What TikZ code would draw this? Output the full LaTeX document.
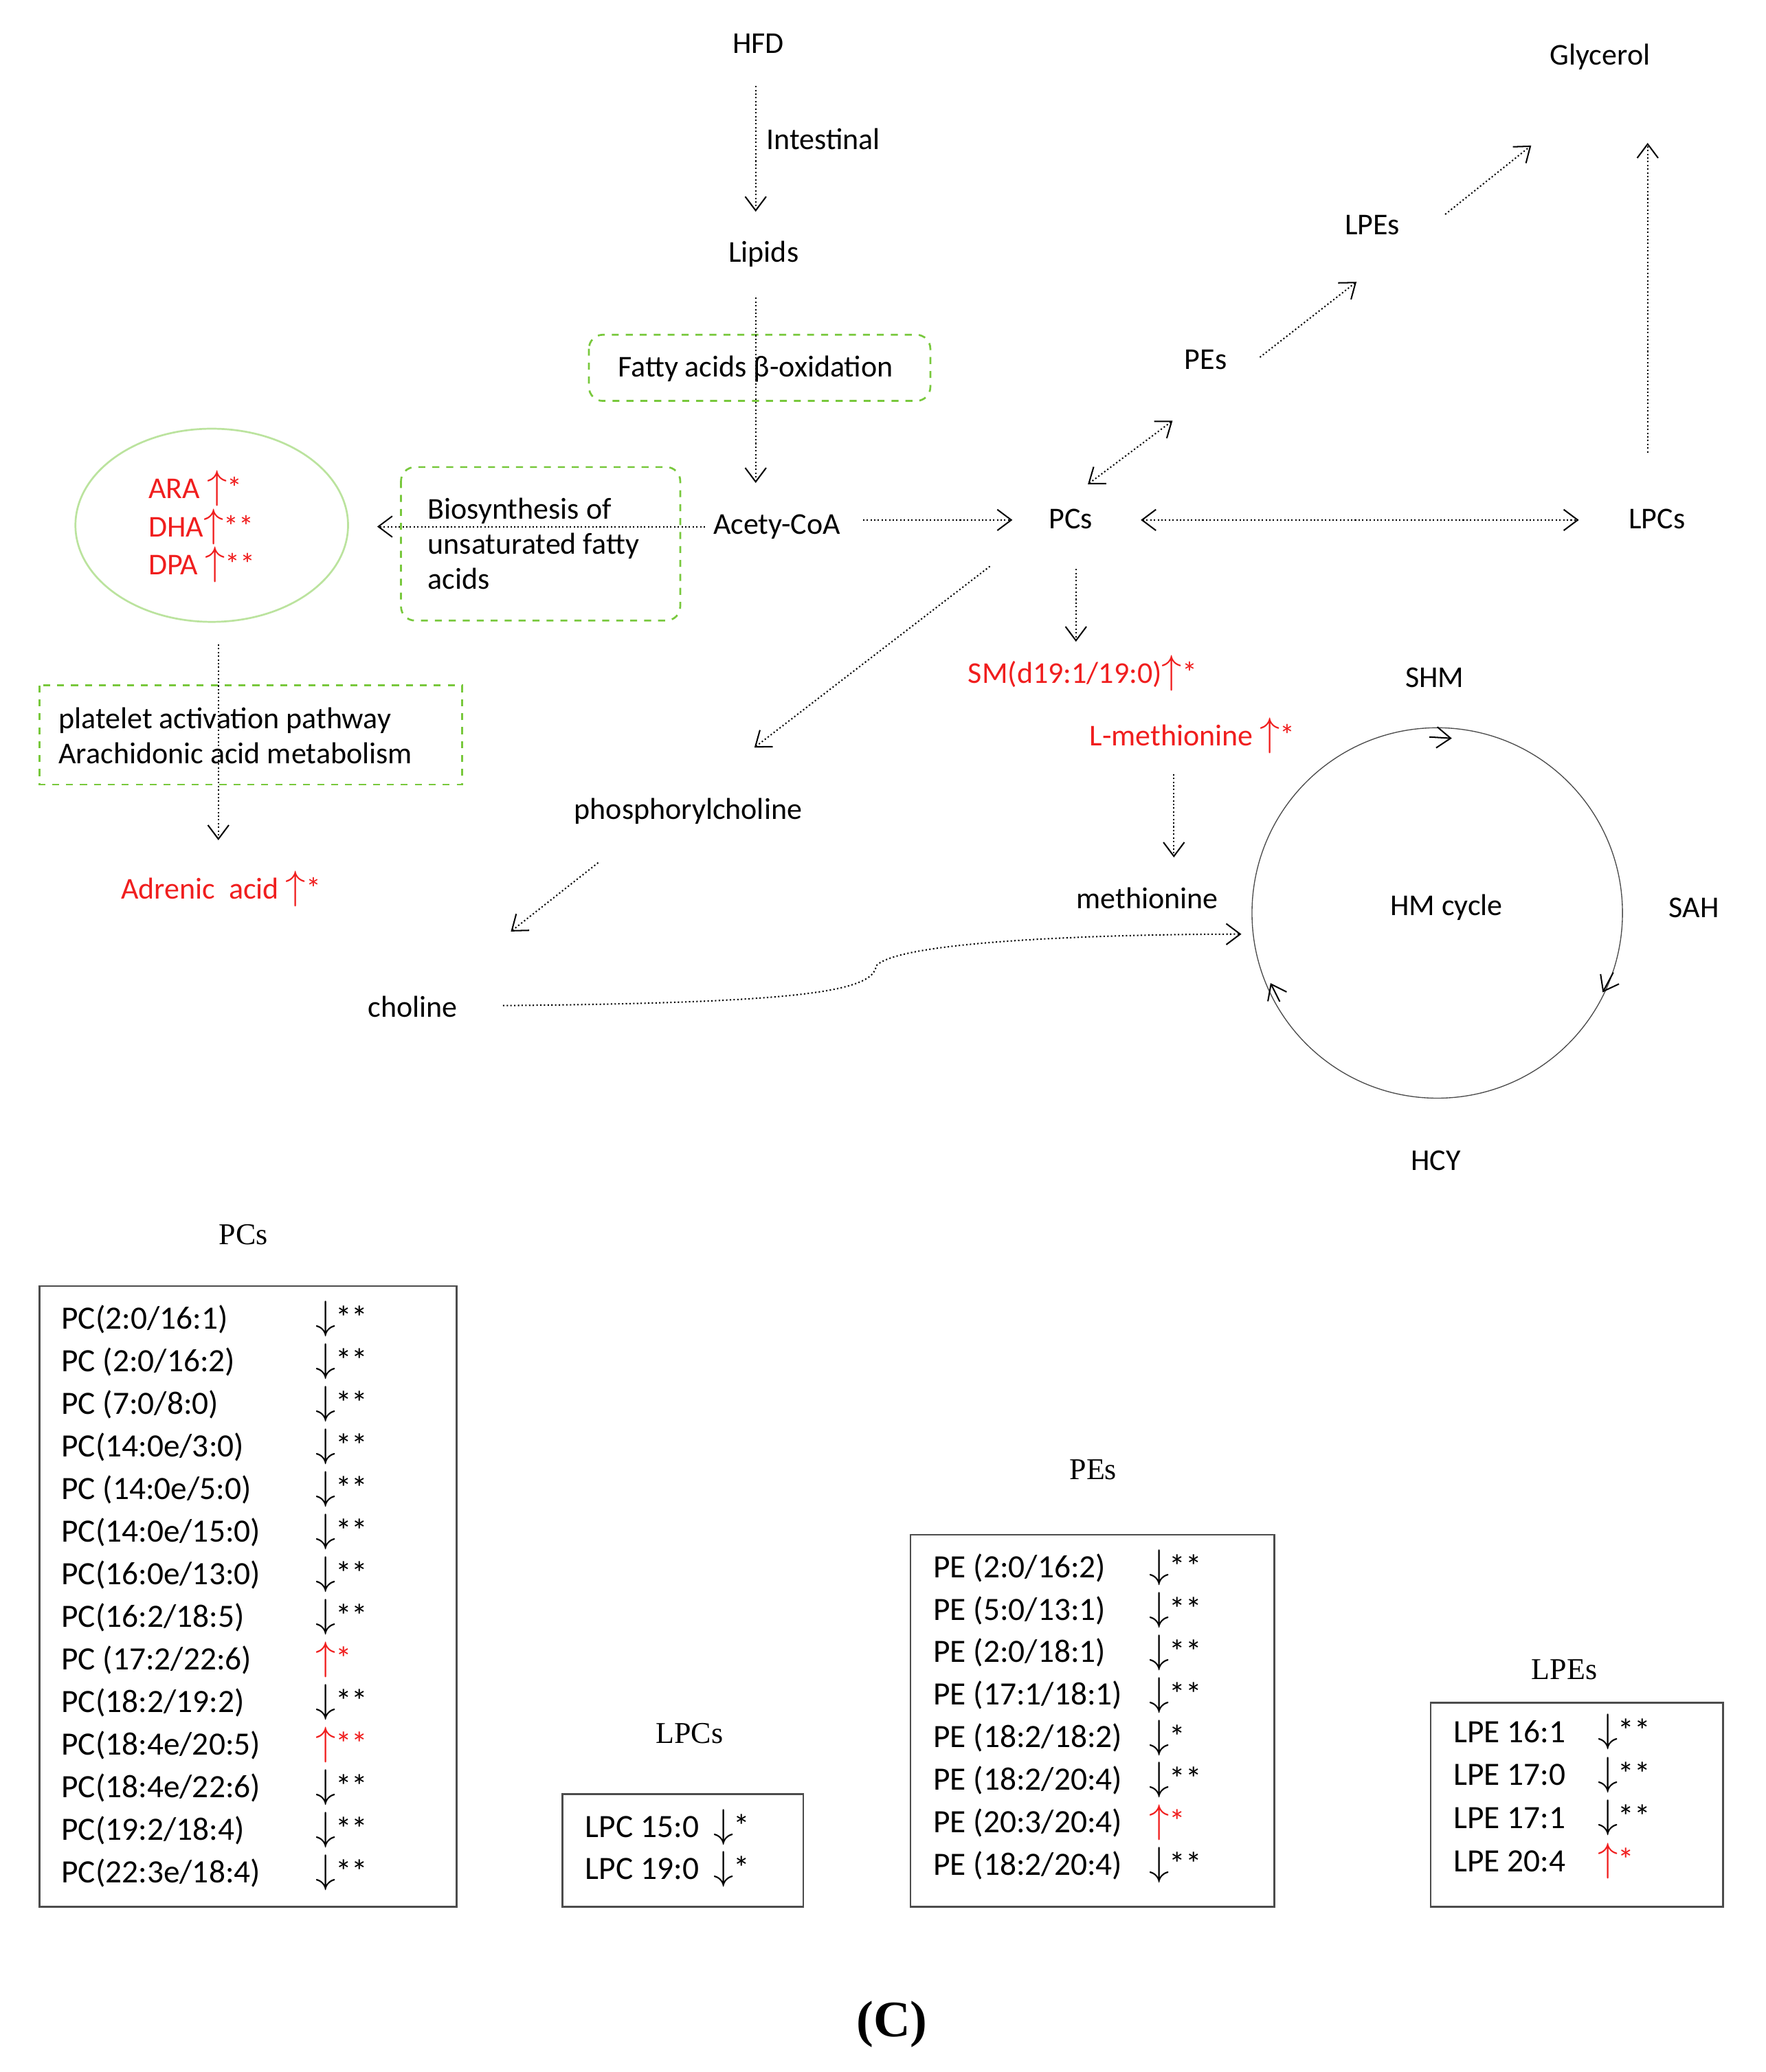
\documentclass[tikz,border=0pt]{standalone}
\usepackage{fontspec}
\setmainfont{Carlito}
\newfontfamily\serif{Liberation Serif}
\usetikzlibrary{arrows.meta}
\definecolor{lg}{RGB}{120,200,60}
\definecolor{rd}{RGB}{240,30,30}
\newcommand{\bigdn}{{\fontsize{17}{17}\selectfont$\downarrow$}}
\newcommand{\bigup}{{\fontsize{17}{17}\selectfont$\uparrow$}}
\newcommand{\dnA}{\bigdn*}
\newcommand{\dnB}{\bigdn**}
\newcommand{\upA}{\textcolor{rd}{\bigup*}}
\newcommand{\upB}{\textcolor{rd}{\bigup**}}
\begin{document}
\begin{tikzpicture}[x=0.02cm,y=-0.02cm,font=\fontsize{13}{15}\selectfont,
  arr/.style={densely dotted,semithick,-{Straight Barb[length=6pt,width=9pt]}},
  darr/.style={densely dotted,semithick,{Straight Barb[length=6pt,width=9pt]}-{Straight Barb[length=6pt,width=9pt]}},
  gbox/.style={draw=lg,dashed,thick,rounded corners=6pt},
  tbox/.style={draw=black!70,thick},
  head/.style={font=\serif\fontsize{13}{15}\selectfont},
  red/.style={text=rd},
  row/.style={anchor=west,inner sep=0pt,font=\fontsize{14}{16}\selectfont}]
\useasboundingbox (0,0) rectangle (1334,1566);
% top
\node (hfd) at (573,33) {HFD};
\node (lipids) at (577,192) {Lipids};
\node[anchor=west] (int) at (573,105) {Intestinal};
\draw[arr] (571,65) coordinate (a1) -- (571,160) coordinate (a2);
\draw[gbox] (445,253) rectangle (703,303);
\node (fat) at (571,279) {Fatty acids β-oxidation};
\node (acoa) at (587,398) {Acety-CoA};
\draw[arr] (571,225) coordinate (b1) -- (571,365) coordinate (b2);
\draw[gbox] (303,353) rectangle (514,469);
\node[anchor=west,align=left,inner sep=0pt] (bio) at (323,411) {Biosynthesis of\\unsaturated fatty\\acids};
\draw[arr] (acoa.west) -- (285,398) coordinate (c2);
\draw[lg!50,thick] (160,397) ellipse [x radius=103,y radius=73];
\node[red,align=left,anchor=west,inner sep=0pt] (fa) at (112,398) {ARA \bigup*\\DHA\bigup**\\DPA \bigup**};
\draw[gbox,rounded corners=0pt] (30,518) rectangle (349,593);
\node[anchor=west,align=left,inner sep=0pt] (plat) at (44,556) {platelet activation pathway\\Arachidonic acid metabolism};
\draw[arr] (165,487) coordinate (d1) -- (165,635) coordinate (d2);
\node[red] (adr) at (167,672) {Adrenic\ \ acid \bigup*};
% PCs network
\node (pcs) at (809,392) {PCs};
\node (lpcs) at (1252,392) {LPCs};
\node (pes) at (911,272) {PEs};
\node (lpes) at (1037,170) {LPEs};
\node (gly) at (1209,43) {Glycerol};
\draw[arr] (652,393) -- (765,393);
\draw[darr] (862,393) -- (1193,393);
\draw[darr] (822,366) -- (886,318);
\draw[arr] (952,270) -- (1025,213);
\draw[arr] (1092,162) -- (1157,110);
\draw[arr] (1245,342) -- (1245,108);
\draw[arr] (813,430) -- (813,485);
\node[red] (sm) at (818,509) {SM(d19:1/19:0)\bigup*};
\node[red] (lmet) at (901,556) {L-methionine \bigup*};
\draw[arr] (887,585) -- (887,648);
\node (met) at (867,679) {methionine};
\node (phc) at (520,613) {phosphorylcholine};
\draw[arr] (748,428) -- (570,565);
\draw[arr] (452,652) -- (386,704);
\node (cho) at (312,761) {choline};
\draw[arr] (380,760) .. controls (600,758) and (660,750) .. (662,730) .. controls (680,710) and (850,706) .. (938,706);
% cycle
\draw[black!70] (1086,690) circle [radius=2.8cm];
\draw[-{Straight Barb[length=6pt,width=9pt]},semithick] (1080,557) -- (1097,558);
\draw[-{Straight Barb[length=6pt,width=9pt]},semithick] (1219,735) -- (1211,750);
\draw[-{Straight Barb[length=6pt,width=9pt]},semithick] (967,757) -- (960,743);
\node (hm) at (1093,686) {HM cycle};
\node (shm) at (1084,512) {SHM};
\node (sah) at (1280,686) {SAH};
\node (hcy) at (1085,877) {HCY};
% tables
\node[head] (h1) at (184,933) {PCs};
\draw[tbox] (30,972) rectangle (345,1441);
\foreach \n/\s [count=\i from 0] in {{PC(2:0/16:1)}/\dnB,{PC (2:0/16:2)}/\dnB,{PC (7:0/8:0)}/\dnB,{PC(14:0e/3:0)}/\dnB,{PC (14:0e/5:0)}/\dnB,{PC(14:0e/15:0)}/\dnB,{PC(16:0e/13:0)}/\dnB,{PC(16:2/18:5)}/\dnB,{PC (17:2/22:6)}/\upA,{PC(18:2/19:2)}/\dnB,{PC(18:4e/20:5)}/\upB,{PC(18:4e/22:6)}/\dnB,{PC(19:2/18:4)}/\dnB,{PC(22:3e/18:4)}/\dnB}{
  \node[row] (pc\i) at (46,997+32.2*\i) {\n};
  \node[row] (pcs\i) at (238,997+32.2*\i) {\s};
}
\node[head] (h2) at (521,1310) {LPCs};
\draw[tbox] (425,1356) rectangle (607,1441);
\node[row] (l1) at (442,1381) {LPC 15:0 \ \dnA};
\node[row] (l2) at (442,1413) {LPC 19:0 \ \dnA};
\node[head] (h3) at (826,1111) {PEs};
\draw[tbox] (688,1160) rectangle (963,1441);
\foreach \n/\s [count=\i from 0] in {{PE (2:0/16:2) }/\dnB,{PE (5:0/13:1) }/\dnB,{PE (2:0/18:1) }/\dnB,{PE (17:1/18:1)}/\dnB,{PE (18:2/18:2)}/\dnA,{PE (18:2/20:4)}/\dnB,{PE (20:3/20:4)}/\upA,{PE (18:2/20:4)}/\dnB}{
  \node[row] (pe\i) at (705,1185+32.1*\i) {\n};
  \node[row] (pes\i) at (868,1185+32.1*\i) {\s};
}
\node[head] (h4) at (1182,1262) {LPEs};
\draw[tbox] (1081,1287) rectangle (1302,1441);
\foreach \n/\s [count=\i from 0] in {{LPE 16:1}/\dnB,{LPE 17:0}/\dnB,{LPE 17:1}/\dnB,{LPE 20:4}/\upA}{
  \node[row] (lpe\i) at (1098,1309+32.5*\i) {\n};
  \node[row] (lpes\i) at (1207,1309+32.5*\i) {\s};
}
\node[font=\serif\bfseries\fontsize{22}{26}\selectfont] (cap) at (674,1530) {(C)};
\end{tikzpicture}
\end{document}
